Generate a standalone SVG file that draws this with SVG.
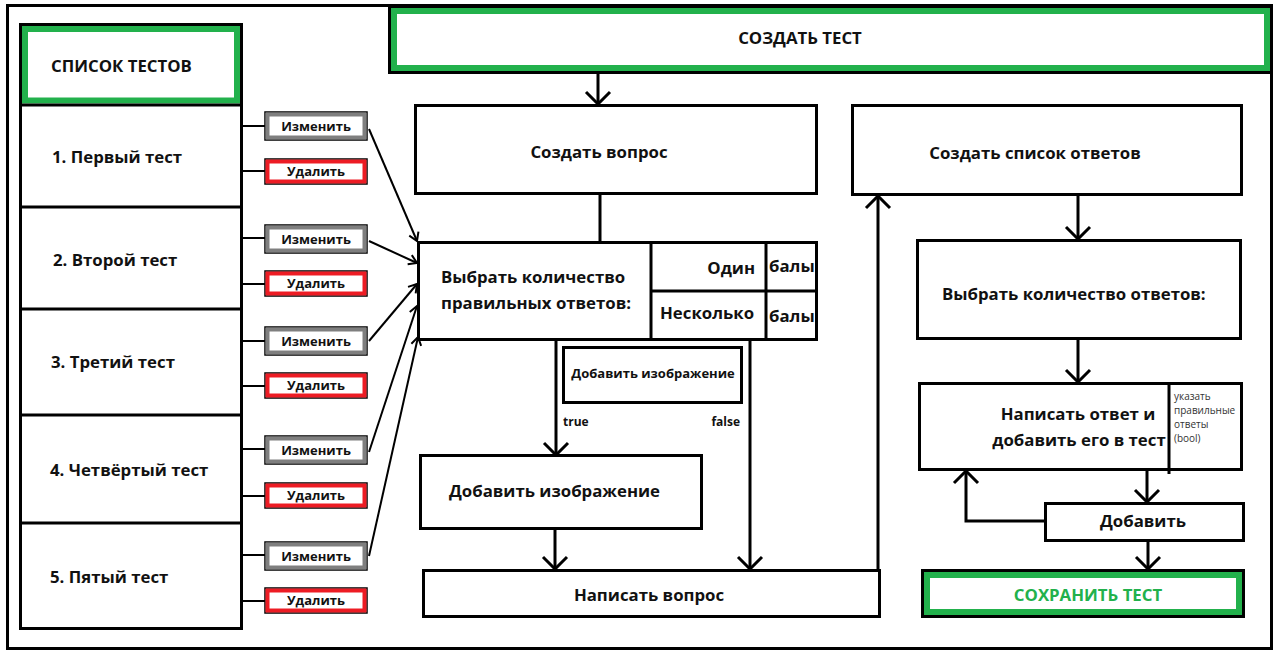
<svg xmlns="http://www.w3.org/2000/svg" width="1280" height="655" viewBox="0 0 1280 655">
<style>
.box{fill:#fff;stroke:#000;stroke-width:3}
.thin{fill:none;stroke:#000;stroke-width:1.5}
.grn{fill:none;stroke:#22b14c;stroke-width:6}
.gry{fill:none;stroke:#7f7f7f;stroke-width:4}
.red{fill:none;stroke:#ed1c24;stroke-width:4}
.ln{fill:none;stroke:#000;stroke-width:3}
.ln2{fill:none;stroke:#000;stroke-width:2}
text{font-family:"Open Sans","DejaVu Sans",sans-serif;font-weight:bold;fill:#111}
.t16{font-size:16.8px}
.t13{font-size:13px}
.t12{font-size:12px}
.sm{font-size:10px;font-weight:normal;fill:#333}
.mid{text-anchor:middle}
.end{text-anchor:end}
</style>
<defs>
<marker id="ah" viewBox="-14 -14 16 28" markerWidth="16" markerHeight="28" refX="0" refY="0" markerUnits="userSpaceOnUse" orient="auto">
<path d="M-12,-12 L0,0 L-12,12" fill="none" stroke="#000" stroke-width="3"/>
</marker>
<marker id="ahs" viewBox="-10 -8 12 16" markerWidth="12" markerHeight="16" refX="0" refY="0" markerUnits="userSpaceOnUse" orient="auto">
<path d="M-8,-5 L0,0 L-8,5" fill="none" stroke="#000" stroke-width="2"/>
</marker>
</defs>
<rect width="1280" height="655" fill="#fff"/>
<rect x="7.5" y="5.5" width="1264" height="643" fill="none" stroke="#000" stroke-width="3"/>

<g id="connectors">
<line class="ln" x1="598" y1="73" x2="598" y2="104" marker-end="url(#ah)"/>
<line class="ln" x1="600" y1="194" x2="600" y2="242"/>
<line class="ln" x1="556" y1="340" x2="556" y2="455" marker-end="url(#ah)"/>
<line class="ln" x1="750" y1="340" x2="750" y2="569" marker-end="url(#ah)"/>
<line class="ln" x1="555" y1="529" x2="555" y2="569" marker-end="url(#ah)"/>
<line class="ln" x1="878" y1="570" x2="878" y2="196" marker-end="url(#ah)"/>
<line class="ln" x1="1078" y1="195" x2="1078" y2="239" marker-end="url(#ah)"/>
<line class="ln" x1="1078" y1="339" x2="1078" y2="382" marker-end="url(#ah)"/>
<line class="ln" x1="1147" y1="470" x2="1147" y2="502" marker-end="url(#ah)"/>
<polyline class="ln" points="1045,521 966,521 966,471" marker-end="url(#ah)"/>
<line class="ln" x1="1148" y1="541" x2="1148" y2="569" marker-end="url(#ah)"/>
<g class="ln2">
<line x1="242" y1="126" x2="265" y2="126"/>
<line x1="242" y1="171" x2="265" y2="171"/>
<line x1="242" y1="238" x2="265" y2="238"/>
<line x1="242" y1="284" x2="265" y2="284"/>
<line x1="242" y1="341" x2="265" y2="341"/>
<line x1="242" y1="386" x2="265" y2="386"/>
<line x1="242" y1="449" x2="265" y2="449"/>
<line x1="242" y1="496" x2="265" y2="496"/>
<line x1="242" y1="555" x2="265" y2="555"/>
<line x1="242" y1="601" x2="265" y2="601"/>
</g>
<line class="ln2" x1="369" y1="129" x2="417" y2="241" marker-end="url(#ahs)"/>
<line class="ln2" x1="369" y1="241" x2="417" y2="263" marker-end="url(#ahs)"/>
<line class="ln2" x1="369" y1="341" x2="417" y2="284" marker-end="url(#ahs)"/>
<line class="ln2" x1="369" y1="452" x2="417" y2="306" marker-end="url(#ahs)"/>
<line class="ln2" x1="369" y1="556" x2="418" y2="337" marker-end="url(#ahs)"/>
</g>

<g id="list">
<rect class="box" x="20.5" y="24.5" width="221" height="604"/>
<rect class="grn" x="25" y="29" width="212" height="71.5"/>
<text class="t16" x="51" y="72">СПИСОК ТЕСТОВ</text>
<line class="ln" x1="20" y1="105" x2="242" y2="105"/>
<line class="ln" x1="20" y1="207" x2="242" y2="207"/>
<line class="ln" x1="20" y1="309" x2="242" y2="309"/>
<line class="ln" x1="20" y1="415" x2="242" y2="415"/>
<line class="ln" x1="20" y1="523" x2="242" y2="523"/>
</g>
<g id="test1"><text class="t16" x="52" y="163">1. Первый тест</text></g>
<g id="test2"><text class="t16" x="53" y="266">2. Второй тест</text></g>
<g id="test3"><text class="t16" x="51" y="368">3. Третий тест</text></g>
<g id="test4"><text class="t16" x="50" y="476">4. Четвёртый тест</text></g>
<g id="test5"><text class="t16" x="50" y="583">5. Пятый тест</text></g>

<g id="edit1"><rect class="thin" x="265" y="112" width="102" height="28"/><rect class="gry" x="267.5" y="114.5" width="97" height="23"/><text class="t13 mid" x="316" y="131">Изменить</text></g>
<g id="del1"><rect class="thin" x="265" y="159" width="102" height="25"/><rect class="red" x="267.5" y="161.5" width="97" height="20"/><text class="t13 mid" x="316" y="176">Удалить</text></g>
<g id="edit2"><rect class="thin" x="265" y="225" width="102" height="28"/><rect class="gry" x="267.5" y="227.5" width="97" height="23"/><text class="t13 mid" x="316" y="244">Изменить</text></g>
<g id="del2"><rect class="thin" x="265" y="271" width="102" height="25"/><rect class="red" x="267.5" y="273.5" width="97" height="20"/><text class="t13 mid" x="316" y="288">Удалить</text></g>
<g id="edit3"><rect class="thin" x="265" y="327" width="102" height="28"/><rect class="gry" x="267.5" y="329.5" width="97" height="23"/><text class="t13 mid" x="316" y="346">Изменить</text></g>
<g id="del3"><rect class="thin" x="265" y="373" width="102" height="25"/><rect class="red" x="267.5" y="375.5" width="97" height="20"/><text class="t13 mid" x="316" y="390">Удалить</text></g>
<g id="edit4"><rect class="thin" x="265" y="436" width="102" height="28"/><rect class="gry" x="267.5" y="438.5" width="97" height="23"/><text class="t13 mid" x="316" y="455">Изменить</text></g>
<g id="del4"><rect class="thin" x="265" y="483" width="102" height="25"/><rect class="red" x="267.5" y="485.5" width="97" height="20"/><text class="t13 mid" x="316" y="500">Удалить</text></g>
<g id="edit5"><rect class="thin" x="265" y="542" width="102" height="28"/><rect class="gry" x="267.5" y="544.5" width="97" height="23"/><text class="t13 mid" x="316" y="561">Изменить</text></g>
<g id="del5"><rect class="thin" x="265" y="588" width="102" height="25"/><rect class="red" x="267.5" y="590.5" width="97" height="20"/><text class="t13 mid" x="316" y="605">Удалить</text></g>

<g id="create-test">
<rect class="box" x="389.5" y="6.5" width="882" height="66"/>
<rect class="grn" x="394" y="11" width="873" height="57"/>
<text class="t16 mid" x="800" y="44">СОЗДАТЬ ТЕСТ</text>
</g>
<g id="create-question">
<rect class="box" x="415.5" y="105.5" width="401" height="88"/>
<text class="t16 mid" x="599" y="158">Создать вопрос</text>
</g>
<g id="choose-correct">
<rect class="box" x="418.5" y="242.5" width="398" height="97"/>
<line class="ln" x1="651" y1="242" x2="651" y2="340"/>
<line class="ln" x1="766" y1="242" x2="766" y2="340"/>
<line class="ln" x1="651" y1="291" x2="817" y2="291"/>
<text class="t16" x="441" y="283">Выбрать количество</text>
<text class="t16" x="441" y="309">правильных ответов:</text>
<text class="t16 end" x="755" y="274">Один</text>
<text class="t16" x="660" y="319">Несколько</text>
<text class="t16" x="769" y="272">балы</text>
<text class="t16" x="769" y="322">балы</text>
</g>
<g id="add-image-option">
<rect class="box" x="563.5" y="347.5" width="178" height="55" stroke-width="2"/>
<text class="t13 mid" x="653" y="378">Добавить изображение</text>
<text class="t12" x="563" y="426">true</text>
<text class="t12 end" x="740" y="426">false</text>
</g>
<g id="add-image">
<rect class="box" x="420.5" y="455.5" width="281" height="73"/>
<text class="t16" x="449" y="497">Добавить изображение</text>
</g>
<g id="write-question">
<rect class="box" x="423.5" y="570.5" width="456" height="46"/>
<text class="t16 mid" x="649" y="601">Написать вопрос</text>
</g>
<g id="create-answers">
<rect class="box" x="852.5" y="105.5" width="389" height="89"/>
<text class="t16 mid" x="1035" y="159">Создать список ответов</text>
</g>
<g id="choose-count">
<rect class="box" x="917.5" y="240.5" width="323" height="98"/>
<text class="t16" x="942" y="300">Выбрать количество ответов:</text>
</g>
<g id="write-answer">
<rect class="box" x="919.5" y="383.5" width="322" height="86"/>
<line class="ln" x1="1169" y1="383" x2="1169" y2="474"/>
<text class="t16 mid" x="1078" y="420">Написать ответ и</text>
<text class="t16 mid" x="1079" y="446">добавить его в тест</text>
<text class="sm" x="1174" y="400">указать</text>
<text class="sm" x="1174" y="414">правильные</text>
<text class="sm" x="1174" y="428">ответы</text>
<text class="sm" x="1174" y="442">(bool)</text>
</g>
<g id="add">
<rect class="box" x="1045.5" y="503.5" width="198" height="37"/>
<text class="t16 mid" x="1143" y="527">Добавить</text>
</g>
<g id="save-test">
<rect class="box" x="922.5" y="570.5" width="321" height="46"/>
<rect class="grn" x="927" y="575" width="312" height="37"/>
<text class="t16 mid" x="1088" y="601" style="fill:#22b14c">СОХРАНИТЬ ТЕСТ</text>
</g>
</svg>
